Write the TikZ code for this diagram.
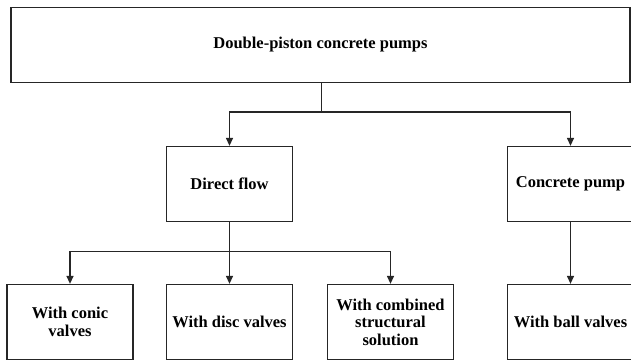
\documentclass[tikz,border=0pt]{standalone}
\usepackage{fontspec}
\setmainfont{Liberation Serif}
\usetikzlibrary{arrows.meta}
\begin{document}
\begin{tikzpicture}[x=1pt,y=-1pt,
  box/.style={draw=black!85, line width=1.3pt, fill=white, minimum width=126pt, minimum height=75pt, inner sep=0pt, align=center, font=\fontsize{16.5}{17.5}\selectfont\bfseries},
  conn/.style={draw=black!85, line width=1.3pt},
  arr/.style={conn, -{Triangle[width=7pt,length=8pt]}}]
\clip (0,0) rectangle (631,361);
\fill[white] (0,0) rectangle (631,361);
\node[box, minimum width=619pt, minimum height=75pt] (top) at (320.5,45) {Double-piston concrete pumps};
\node[box] (df) at (229.5,184) {Direct flow};
\node[box] (cp) at (570.5,184) {Concrete pump};
\node[box] (b1) at (70,322) {With conic\\valves};
\node[box] (b2) at (229.5,322) {With disc valves};
\node[box] (b3) at (390.5,322) {With combined\\structural\\solution};
\node[box] (b4) at (570.5,322) {With ball valves};
\coordinate (j1) at (321.5,112);
\coordinate (j2) at (229.5,251.5);
\draw[conn] (top.south -| j1) -- (j1);
\draw[arr] (j1) -| (df);
\draw[arr] (j1) -| (cp);
\draw[arr] (df) -- (b2);
\draw[arr] (j2) -| (b1);
\draw[arr] (j2) -| (b3);
\draw[arr] (cp) -- (b4);
\end{tikzpicture}
\end{document}
